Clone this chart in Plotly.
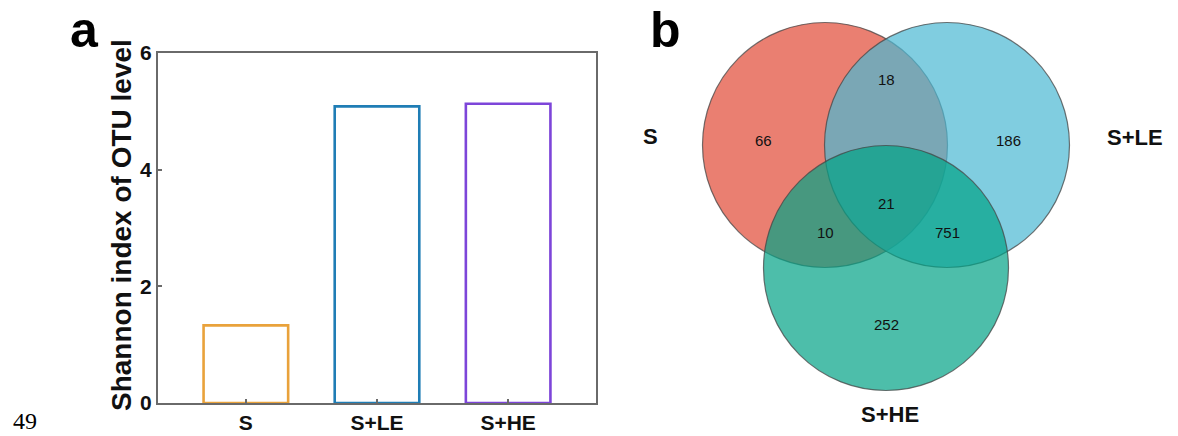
import plotly.graph_objects as go

# ---------------- data ----------------
categories = ["S", "S+LE", "S+HE"]
shannon = [1.33, 5.085, 5.13]
bar_colors = ["#E9A23B", "#1F7DB5", "#7D45D9"]
y_ticks = [0, 2, 4, 6]

set_names = ["S", "S+LE", "S+HE"]
# region counts: S only, LE only, HE only, S&LE, S&HE, LE&HE, all
region_labels = ["66", "186", "252", "18", "10", "751", "21"]

# ---------------- layout config (pixels) ----------------
W, H = 1178, 436
circle_centers = [(825, 145), (947, 145), (886, 268)]
circle_r = 122.5
circle_fill = ["rgba(225,72,52,0.7)", "rgba(74,184,211,0.7)", "rgba(2,162,134,0.7)"]
region_pos = [(763, 140), (1008, 140), (886, 324), (886, 79), (825, 232), (947, 232), (886, 203)]
set_label_pos = [(650, 136), (1135, 137), (890, 414)]

FONT = "Liberation Sans, Arial"

fig = go.Figure()

fig.add_trace(go.Bar(
    x=categories, y=shannon, width=0.645,
    marker=dict(color="rgba(255,255,255,0)", line=dict(color=bar_colors, width=2.6)),
    xaxis="x", yaxis="y", showlegend=False,
))

# invisible trace to anchor the venn axes
fig.add_trace(go.Scatter(x=[600, 1178], y=[0, 436], mode="markers",
                         marker=dict(opacity=0), xaxis="x2", yaxis="y2",
                         showlegend=False, hoverinfo="skip"))

ax_common = dict(showline=True, mirror=True, linecolor="#6a6a6a", linewidth=2.2,
                 ticks="inside", ticklen=4, tickcolor="#6a6a6a", tickwidth=1.5,
                 showgrid=False, zeroline=False, automargin=False,
                 tickfont=dict(family=FONT, size=21, color="#111", weight="bold"))

fig.update_layout(
    template="none",
    width=W, height=H, margin=dict(l=0, r=0, t=0, b=0, pad=0, autoexpand=False),
    paper_bgcolor="white", plot_bgcolor="white",
    xaxis=dict(domain=[158 / W, 596 / W], range=[-0.67, 2.67], **ax_common),
    yaxis=dict(domain=[(H - 403) / H, (H - 53) / H], range=[0, 6], tickvals=y_ticks, **ax_common),
    xaxis2=dict(domain=[600 / W, 1], range=[600, 1178], visible=False, fixedrange=True),
    yaxis2=dict(domain=[0, 1], range=[436, 0], visible=False, fixedrange=True, anchor="x2"),
)

shapes = []
for (cx, cy), fc in zip(circle_centers, circle_fill):
    shapes.append(dict(type="circle", xref="x2", yref="y2",
                       x0=cx - circle_r, x1=cx + circle_r, y0=cy - circle_r, y1=cy + circle_r,
                       fillcolor=fc, line=dict(color="rgba(70,70,70,0.75)", width=1.2),
                       layer="above"))
fig.update_layout(shapes=shapes)

ann = []
for txt, (px, py) in zip(region_labels, region_pos):
    ann.append(dict(x=px, y=py, xref="x2", yref="y2", text=txt, showarrow=False,
                    xanchor="center", yanchor="middle",
                    font=dict(family=FONT, size=15, color="#111")))
for txt, (px, py) in zip(set_names, set_label_pos):
    ann.append(dict(x=px, y=py, xref="x2", yref="y2", text=txt, showarrow=False,
                    xanchor="center", yanchor="middle",
                    font=dict(family=FONT, size=22, color="#111", weight="bold")))

# y axis title
ann.append(dict(x=122 / W, y=1 - 225 / H, xref="paper", yref="paper",
                text="Shannon index of OTU level", textangle=-90, showarrow=False,
                xanchor="center", yanchor="middle",
                font=dict(family=FONT, size=28, color="#111", weight="bold")))
# panel letters
ann.append(dict(x=84 / W, y=1.0, xref="paper", yref="paper", text="a",
                showarrow=False, xanchor="center", yanchor="top",
                font=dict(family=FONT, size=50, color="#000", weight="bold")))
ann.append(dict(x=665 / W, y=1.0, xref="paper", yref="paper", text="b",
                showarrow=False, xanchor="center", yanchor="top",
                font=dict(family=FONT, size=50, color="#000", weight="bold")))
# page number
ann.append(dict(x=25 / W, y=1 - 421 / H, xref="paper", yref="paper", text="49",
                showarrow=False, xanchor="center", yanchor="middle",
                font=dict(family="Liberation Serif, Times New Roman", size=24, color="#000")))
fig.update_layout(annotations=ann)

fig.write_html("out.html", config={"displayModeBar": False},
               post_script="document.body.style.margin='0';document.body.style.overflow='hidden';")
